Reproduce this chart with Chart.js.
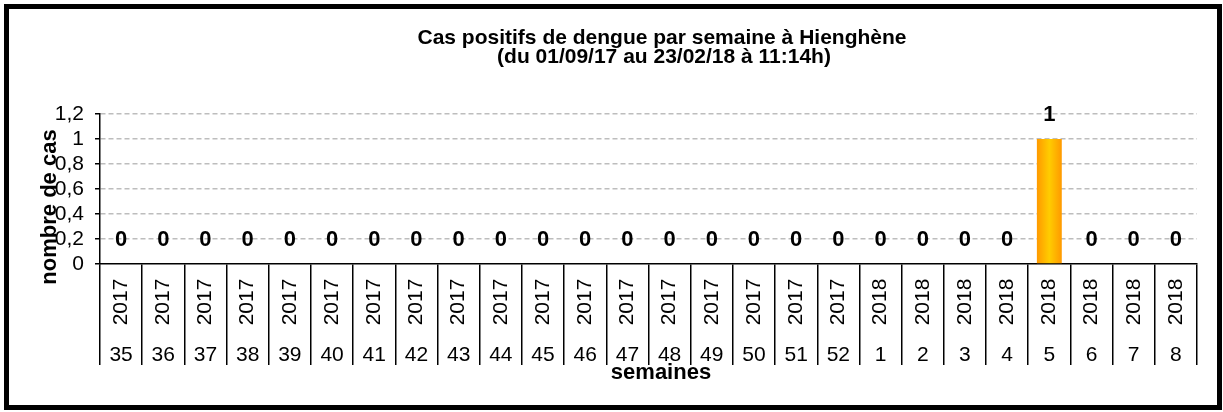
<!DOCTYPE html>
<html>
<head>
<meta charset="utf-8">
<script src="https://cdn.jsdelivr.net/npm/chart.js"></script>
<style>
  html, body { margin: 0; padding: 0; background: #fff; }
  canvas { display: block; }
</style>
</head>
<body>
<canvas id="chart" width="1223" height="412"></canvas>
<script>
const weeks = ["35", "36", "37", "38", "39", "40", "41", "42", "43", "44", "45", "46", "47",
  "48", "49", "50", "51", "52", "1", "2", "3", "4", "5", "6", "7", "8"];
const years = ["2017", "2017", "2017", "2017", "2017", "2017", "2017", "2017", "2017", "2017",
  "2017", "2017", "2017", "2017", "2017", "2017", "2017", "2017",
  "2018", "2018", "2018", "2018", "2018", "2018", "2018", "2018"];
const cases = [0, 0, 0, 0, 0, 0, 0, 0, 0, 0, 0, 0, 0, 0, 0, 0, 0, 0, 0, 0, 0, 0, 1, 0, 0, 0];

const titleLines = ["Cas positifs de dengue par semaine à Hienghène", "(du 01/09/17 au 23/02/18 à 11:14h)"];
const FONT = "'Liberation Sans', Arial, sans-serif";

function barGradient(context) {
    const chart = context.chart;
    if (!chart.chartArea) return "#ffcc00";
    const x = chart.scales.x.getPixelForValue(context.dataIndex);
    const g = chart.ctx.createLinearGradient(x - 12.5, 0, x + 12.5, 0);
    g.addColorStop(0, "#ff9900");
    g.addColorStop(0.5, "#ffcc00");
    g.addColorStop(1, "#ff9900");
    return g;
}

const decorations = {
    id: "decorations",
    afterDraw(chart) {
        const ctx = chart.ctx;
        const xs = chart.scales.x;
        const ys = chart.scales.y;
        ctx.save();
        ctx.fillStyle = "#000";

        // title
        ctx.font = "bold 21px " + FONT;
        ctx.textAlign = "center";
        ctx.textBaseline = "middle";
        ctx.fillText(titleLines[0], 662, 38);
        ctx.fillText(titleLines[1], 664, 57);

        // value labels
        ctx.font = "bold 22px " + FONT;
        cases.forEach((v, i) => {
            ctx.fillText(String(v), xs.getPixelForValue(i), ys.getPixelForValue(v) - 24);
        });

        // category labels: week + rotated year
        ctx.font = "21px " + FONT;
        weeks.forEach((w, i) => {
            const x = xs.getPixelForValue(i);
            ctx.fillText(w, x, 355);
            ctx.save();
            ctx.translate(x, 302);
            ctx.rotate(-Math.PI / 2);
            ctx.fillText(years[i], 0, 0);
            ctx.restore();
        });

        // axis titles
        ctx.font = "bold 22px " + FONT;
        ctx.fillText("semaines", 661, 373);
        ctx.save();
        ctx.translate(50, 207);
        ctx.rotate(-Math.PI / 2);
        ctx.fillText("nombre de cas", 0, 0);
        ctx.restore();

        // frame
        ctx.lineWidth = 5;
        ctx.strokeStyle = "#000";
        ctx.strokeRect(6.5, 6.5, 1213, 401);
        ctx.restore();
    }
};

new Chart(document.getElementById("chart"), {
    type: "bar",
    data: {
        labels: weeks,
        datasets: [{
            data: cases,
            backgroundColor: barGradient,
            borderWidth: 0,
            categoryPercentage: 1,
            barPercentage: 0.59
        }]
    },
    options: {
        responsive: false,
        animation: false,
        devicePixelRatio: 1,
        layout: { padding: { top: 114, right: 26, bottom: 0, left: 0 } },
        plugins: {
            legend: { display: false },
            title: { display: false },
            tooltip: { enabled: false }
        },
        scales: {
            x: {
                ticks: { display: false },
                grid: {
                    drawOnChartArea: false,
                    color: "#000",
                    tickColor: "#000",
                    lineWidth: 1.5,
                    tickLength: 101,
                    offset: true
                },
                border: { color: "#000", width: 1.5 },
                afterFit(scale) { scale.height = 148; }
            },
            y: {
                min: 0,
                max: 1.2,
                ticks: {
                    stepSize: 0.2,
                    autoSkip: false,
                    padding: 11,
                    color: "#000",
                    font: { family: FONT, size: 21 },
                    callback: (v) => String(Math.round(v * 10) / 10).replace(".", ",")
                },
                grid: {
                    color: (c) => c.tick && c.tick.value === 0 ? "rgba(0,0,0,0)" : "#bdbdbd",
                    lineWidth: 1.5,
                    tickColor: "#000",
                    tickLength: 5,
                    tickWidth: 1.5
                },
                border: { color: "#000", width: 1.5, dash: [5, 3] },
                afterFit(scale) { scale.width = 100; }
            }
        }
    },
    plugins: [decorations]
});
</script>
</body>
</html>
